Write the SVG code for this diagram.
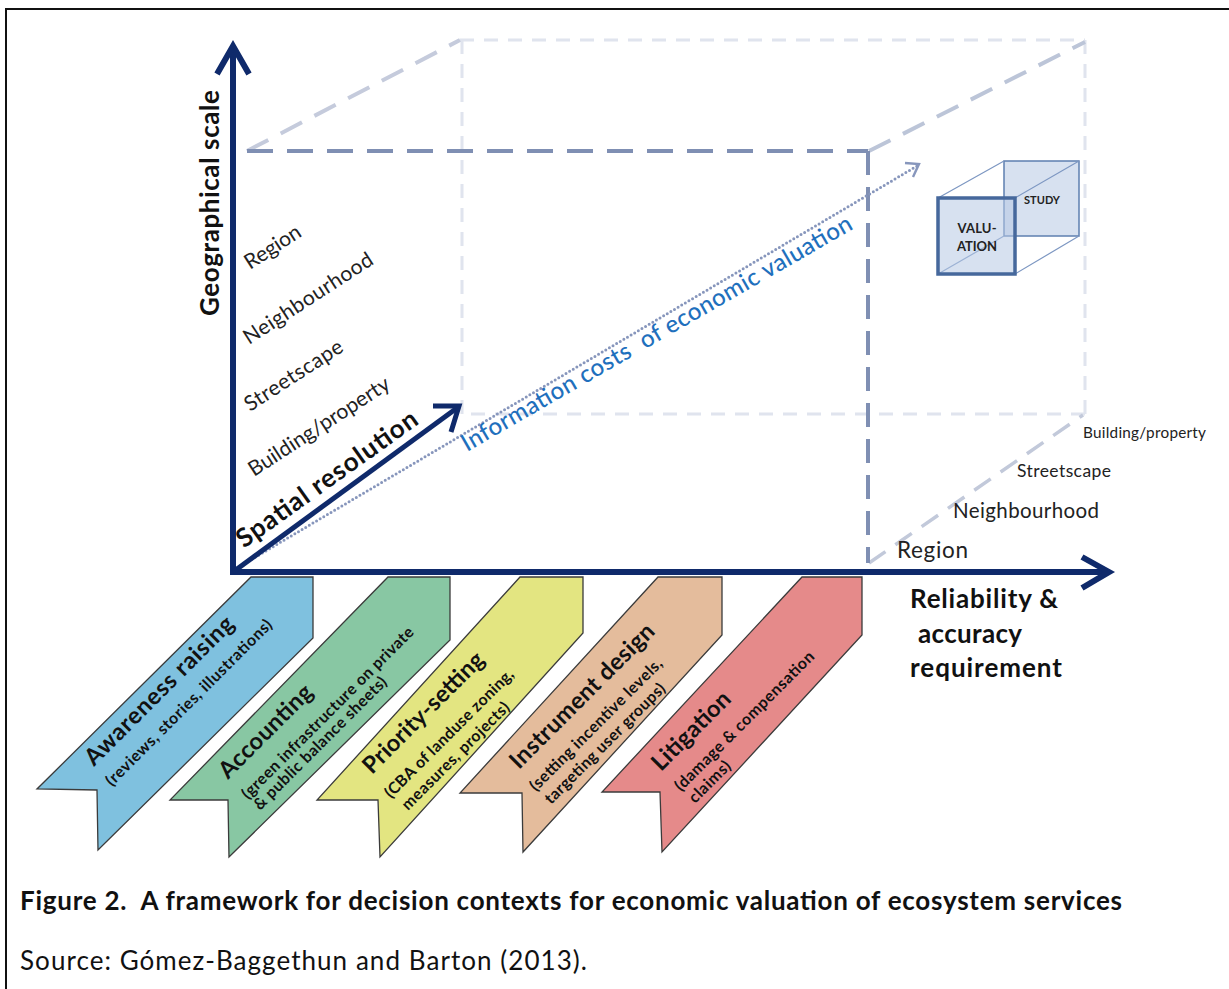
<svg xmlns="http://www.w3.org/2000/svg" width="1229" height="989" viewBox="0 0 1229 989">
  <style>
    text { font-family: Lato, "Open Sans", "Liberation Sans", sans-serif; fill: #111; }
    .axis { stroke: #0f2a6b; stroke-width: 6; fill: none; stroke-linejoin: miter; }
    .axis-head { stroke: #0f2a6b; stroke-width: 6; fill: none; stroke-linecap: butt; stroke-linejoin: miter; }
    .front-dash { stroke: #7f8fb3; stroke-width: 4; fill: none; stroke-dasharray: 26 14; }
    .back-dash { stroke: #e0e4ee; stroke-width: 3; fill: none; stroke-dasharray: 14 10; }
    .depth-dash { stroke: #bcc5d8; stroke-width: 4; fill: none; stroke-dasharray: 24 14; }
    .dots { stroke: #8796bc; stroke-width: 3; fill: none; stroke-linecap: round; stroke-dasharray: 0 4.2; }
    .dots-head { stroke: #8796bc; stroke-width: 2.4; fill: none; }
    .ribbon { stroke: #3b3b3b; stroke-width: 1.3; stroke-linejoin: miter; }
    .rb { font-weight: 700; font-size: 23.5px; }
    .rs { font-weight: 700; font-size: 16px; }
    .ax-label { font-weight: 700; font-size: 26px; }
    .scale-l { font-size: 21px; fill: #222; }
    .cube-face { fill: #b7c8e4; fill-opacity: 0.55; }
    .cube-edge { stroke: #7d97c2; stroke-width: 1.2; fill: none; }
    .cube-txt { font-weight: 700; fill: #222; text-anchor: middle; }
  </style>

  <!-- page frame -->
  <rect x="0" y="0" width="1229" height="989" fill="#ffffff"/>
  <rect x="6" y="9" width="1240" height="1000" fill="none" stroke="#111" stroke-width="2"/>

  <!-- decision-context ribbons -->
  <g id="ribbon-awareness">
    <path class="ribbon" fill="#7fc1df" d="M251,577 L313,577 L313,638 L98,850 L97,790 L37,789 Z"/>
    <text class="rb" transform="translate(94,767) rotate(-45)" textLength="200">Awareness raising</text>
    <text class="rs" transform="translate(112,787) rotate(-45)" textLength="228">(reviews, stories, illustrations)</text>
  </g>
  <g id="ribbon-accounting">
    <path class="ribbon" fill="#88c7a3" d="M388,577 L450,577 L450,640 L229,857 L228,800 L170,800 Z"/>
    <text class="rb" transform="translate(228,780) rotate(-45)" textLength="122">Accounting</text>
    <text class="rs" transform="translate(248,800) rotate(-45)" textLength="236">(green infrastructure on private</text>
    <text class="rs" transform="translate(260,811) rotate(-45)" textLength="181">&amp; public balance sheets)</text>
  </g>
  <g id="ribbon-priority">
    <path class="ribbon" fill="#e3e581" d="M520,577 L583,577 L583,633 L380,857 L378,800 L317,800 Z"/>
    <text class="rb" transform="translate(372,775) rotate(-45)" textLength="161">Priority-setting</text>
    <text class="rs" transform="translate(391,799) rotate(-45)" textLength="175">(CBA of landuse zoning,</text>
    <text class="rs" transform="translate(408,811) rotate(-45)" textLength="145">measures, projects)</text>
  </g>
  <g id="ribbon-instrument">
    <path class="ribbon" fill="#e4bc9c" d="M658,577 L722,577 L722,635 L523,852 L522,793 L460,793 Z"/>
    <text class="rb" transform="translate(519,770) rotate(-45)" textLength="194">Instrument design</text>
    <text class="rs" transform="translate(536,792) rotate(-45)" textLength="180">(setting incentive levels,</text>
    <text class="rs" transform="translate(551,805) rotate(-45)" textLength="163">targeting user groups)</text>
  </g>
  <g id="ribbon-litigation">
    <path class="ribbon" fill="#e58a8a" d="M802,577 L862,577 L862,635 L662,852 L660,792 L602,792 Z"/>
    <text class="rb" transform="translate(661,772) rotate(-45)" textLength="101">Litigation</text>
    <text class="rs" transform="translate(681,792) rotate(-45)" textLength="190">(damage &amp; compensation</text>
    <text class="rs" transform="translate(695,804) rotate(-45)" textLength="52">claims)</text>
  </g>

  <!-- perspective box outline and axes -->
  <g id="connectors">
    <!-- back face -->
    <path class="back-dash" d="M460,40 L1085,40 M1085,40 L1085,414 M1085,414 L462,414 M462,414 L462,40"/>
    <!-- depth edges -->
    <line class="depth-dash" x1="247" y1="151" x2="460" y2="40" style="stroke:#c5cbdc"/>
    <line class="depth-dash" x1="869" y1="151" x2="1085" y2="42"/>
    <line class="depth-dash" x1="869" y1="563" x2="1083" y2="415" style="stroke:#c2c9da;stroke-width:3.5;stroke-dasharray:20 12"/>
    <!-- front face -->
    <path class="front-dash" d="M247,151 L868,151"/>
    <path class="front-dash" d="M868,151 L868,563" style="stroke-dasharray:24 12"/>

    <!-- information cost trend -->
    <line class="dots" x1="237" y1="568" x2="917" y2="166"/>
    <polyline class="dots-head" points="905,163 919,164 913,177"/>

    <!-- geographical scale axis -->
    <line class="axis" x1="233" y1="575" x2="233" y2="46"/>
    <polyline class="axis-head" points="217,74 233,46 249,74"/>
    <!-- reliability axis -->
    <line class="axis" x1="230" y1="572" x2="1108" y2="572"/>
    <polyline class="axis-head" points="1082,557 1109,572 1082,588"/>
    <!-- spatial resolution axis -->
    <line class="axis" x1="233" y1="572" x2="457" y2="408" style="stroke-width:5"/>
    <polyline class="axis-head" points="433,406 459,406 451,432" style="stroke-width:5"/>
  </g>

  <!-- axis titles -->
  <g id="axis-geo">
    <text class="ax-label" transform="translate(219,203) rotate(-90)" text-anchor="middle" textLength="226">Geographical scale</text>
  </g>
  <g id="axis-spatial">
    <text class="ax-label" transform="translate(332,486) rotate(-35.5)" text-anchor="middle" textLength="216">Spatial resolution</text>
  </g>
  <g id="axis-reliability">
    <text class="ax-label" x="910" y="608" textLength="148">Reliability &amp;</text>
    <text class="ax-label" x="918" y="643" textLength="104">accuracy</text>
    <text class="ax-label" x="910" y="677" textLength="152">requirement</text>
  </g>
  <g id="trend-label">
    <text transform="translate(467,452) rotate(-30)" xml:space="preserve" style="font-size:24px;font-weight:500;fill:#1f70bd" textLength="447">Information costs  of economic valuation</text>
  </g>

  <!-- scale levels along the geographical axis -->
  <g id="levels-left">
    <text class="scale-l" transform="translate(250,270) rotate(-33)" textLength="63">Region</text>
    <text class="scale-l" transform="translate(249,345) rotate(-33)" textLength="150">Neighbourhood</text>
    <text class="scale-l" transform="translate(250,412) rotate(-33)" textLength="113">Streetscape</text>
    <text class="scale-l" transform="translate(254,477) rotate(-33)" textLength="164">Building/property</text>
  </g>
  <!-- scale levels along the receding axis -->
  <g id="levels-right">
    <text class="scale-l" x="1083" y="438" style="font-size:15.3px" textLength="123">Building/property</text>
    <text class="scale-l" x="1017" y="477" style="font-size:17.5px" textLength="94">Streetscape</text>
    <text class="scale-l" x="953" y="518" style="font-size:20.5px" textLength="146">Neighbourhood</text>
    <text class="scale-l" x="897" y="558" style="font-size:22.5px" textLength="71">Region</text>
  </g>

  <!-- valuation study cube -->
  <g id="cube">
    <rect class="cube-face" x="1004" y="161" width="75" height="75" stroke="#5e7fb0" stroke-width="1.5"/>
    <path class="cube-edge" d="M938,198 L1004,161 M1015,198 L1079,161 M938,274 L1004,236 M1015,274 L1079,236"/>
    <rect class="cube-face" x="938" y="198" width="77" height="76" stroke="#46689c" stroke-width="3.5"/>
    <text class="cube-txt" x="1042" y="204" style="font-size:11px" textLength="36">STUDY</text>
    <text class="cube-txt" x="977" y="233" style="font-size:13px" textLength="39">VALU-</text>
    <text class="cube-txt" x="977" y="251" style="font-size:13px" textLength="40">ATION</text>
  </g>

  <!-- caption -->
  <g id="caption">
    <text x="20" y="910" style="font-weight:700;font-size:26px" xml:space="preserve" textLength="1102">Figure 2.  A framework for decision contexts for economic valuation of ecosystem services</text>
    <text x="20" y="970" style="font-size:26px" textLength="567">Source: Gómez-Baggethun and Barton (2013).</text>
  </g>
</svg>
